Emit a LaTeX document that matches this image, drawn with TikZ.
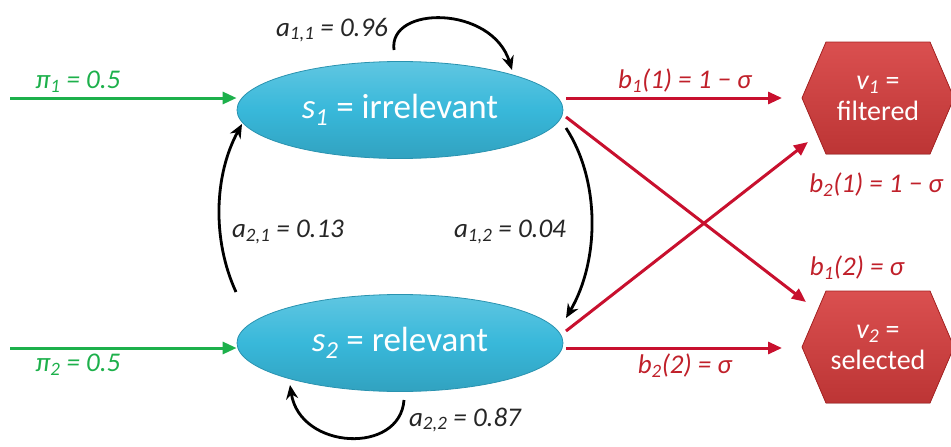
\documentclass[tikz,border=0pt]{standalone}
\usepackage{fontspec}
\setmainfont{Carlito}
\usetikzlibrary{shapes.geometric,arrows.meta}
\definecolor{stateblue}{HTML}{38B8DA}
\definecolor{stateborder}{HTML}{2A93B0}
\definecolor{hexred}{HTML}{D63C3C}
\definecolor{hexborder}{HTML}{A82424}
\definecolor{arrred}{HTML}{C8102E}
\definecolor{labred}{HTML}{C0202A}
\definecolor{arrgreen}{HTML}{1DB04B}
\definecolor{labgray}{HTML}{262626}
\tikzset{
  statenode/.style={ellipse, draw=stateborder, line width=0.8pt, top color=stateblue!80!white, bottom color=stateblue!88!black, middle color=stateblue, minimum width=326pt, minimum height=97pt, inner sep=0pt, text=white, font=\fontsize{35}{38}\selectfont},
  hexfill/.style={draw=hexborder, line width=0.8pt, top color=hexred!90!white, bottom color=hexred!88!black},
  hextext/.style={text=white, align=center, font=\fontsize{28}{31}\selectfont},
  grarrow/.style={draw=arrgreen, line width=3pt, -{Triangle[length=14pt,width=12pt]}},
  redarrow/.style={draw=arrred, line width=3pt, -{Triangle[length=14pt,width=12pt]}},
  blkarrow/.style={draw=black, line width=2.8pt, -{Stealth[length=14pt,width=12pt]}},
  grlab/.style={text=arrgreen, font=\fontsize{27}{29}\selectfont\itshape},
  redlab/.style={text=labred, font=\fontsize{27}{29}\selectfont\itshape},
  blklab/.style={text=labgray, font=\fontsize{27}{29}\selectfont\itshape},
}
\begin{document}
\begin{tikzpicture}[x=1pt,y=-1pt]
\useasboundingbox (0,0) rectangle (951,447);
% states
\node[statenode] (s1) at (400,110) {\textit{s\textsubscript{1}} = irrelevant};
\node[statenode] (s2) at (400,343) {\textit{s\textsubscript{2}} = relevant};
% hexagons
\fill[hexfill] (802,98) -- (826,42) -- (930,42) -- (954,98) -- (930,154) -- (826,154) -- cycle;
\node[hextext] (v1) at (878,98) {\textit{v\textsubscript{1}} =\\filtered};
\fill[hexfill] (802,347) -- (826,291) -- (930,291) -- (954,347) -- (930,403) -- (826,403) -- cycle;
\node[hextext] (v2) at (878,347) {\textit{v\textsubscript{2}} =\\selected};
% start coordinates
\coordinate (p1) at (10,98);
\coordinate (p2) at (10,348);
\draw[grarrow] (p1) -- (s1.west |- p1) node[pos=0.3, above=1pt, grlab] (l1) {π\textsubscript{1} = 0.5};
\draw[grarrow] (p2) -- (s2.west |- p2) node[pos=0.3, below=1pt, grlab] (l2) {π\textsubscript{2} = 0.5};
% emissions
\coordinate (e11) at (566,98);
\coordinate (e11e) at (782,98);
\draw[redarrow] (e11) -- (e11e) node[pos=0.55, above=1pt, redlab] (lb11) {b\textsubscript{1}(1) = 1 − σ};
\coordinate (e22) at (566,348);
\coordinate (e22e) at (782,348);
\draw[redarrow] (e22) -- (e22e) node[pos=0.55, below=1pt, redlab] (lb22) {b\textsubscript{2}(2) = σ};
\coordinate (e12) at (566,117);
\coordinate (e12e) at (806,302);
\draw[redarrow] (e12) -- (e12e);
\coordinate (e21) at (566,331);
\coordinate (e21e) at (808,142);
\draw[redarrow] (e21) -- (e21e);
\node[redlab] (lb21) at (876,185) {b\textsubscript{2}(1) = 1 − σ};
\node[redlab] (lb12) at (857,268) {b\textsubscript{1}(2) = σ};
% transitions
\coordinate (a11s) at (394,50);
\coordinate (a11e) at (512,70);
\draw[blkarrow] (a11s) .. controls (388,5) and (492,5) .. (a11e);
\node[blklab] (la11) at (332,30) {a\textsubscript{1,1} = 0.96};
\coordinate (a21s) at (236,292);
\coordinate (a21e) at (242,124);
\draw[blkarrow] (a21s) .. controls (212,240) and (214,175) .. (a21e);
\node[blklab] (la21) at (288,232) {a\textsubscript{2,1} = 0.13};
\coordinate (a12s) at (566,128);
\coordinate (a12e) at (566,318);
\draw[blkarrow] (a12s) .. controls (600,180) and (600,260) .. (a12e);
\node[blklab] (la12) at (510,232) {a\textsubscript{1,2} = 0.04};
\coordinate (a22s) at (404,400);
\coordinate (a22e) at (290,385);
\draw[blkarrow] (a22s) .. controls (400,455) and (300,450) .. (a22e);
\node[blklab] (la22) at (465,420) {a\textsubscript{2,2} = 0.87};
\end{tikzpicture}
\end{document}
